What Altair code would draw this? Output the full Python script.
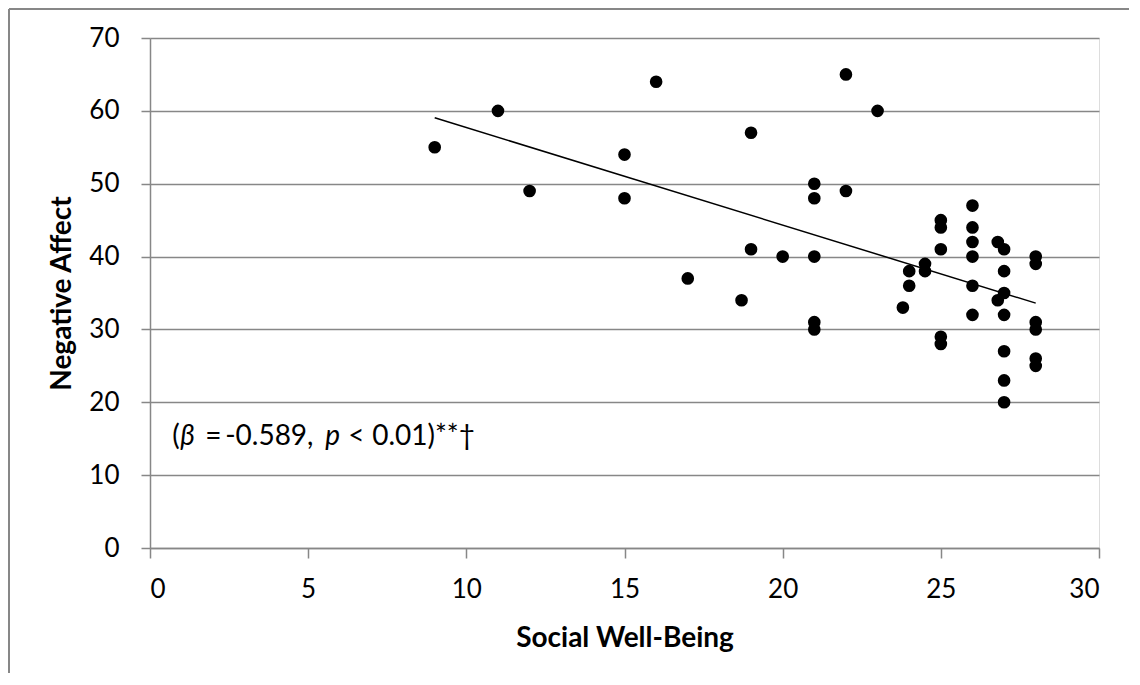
import altair as alt
import pandas as pd

social_wb = [9, 11, 12, 15, 15, 16, 17, 18.7, 19, 19, 20,
             21, 21, 21, 21, 21, 22, 22, 23, 23.8, 24, 24, 24.5, 24.5,
             25, 25, 25, 25, 25, 26, 26, 26, 26, 26, 26,
             26.8, 27, 27, 27, 26.8, 27, 27, 27, 27,
             28, 28, 28, 28, 28, 28]
neg_affect = [55, 60, 49, 54, 48, 64, 37, 34, 57, 41, 40,
              50, 48, 40, 31, 30, 65, 49, 60, 33, 38, 36, 39, 38,
              45, 44, 41, 29, 28, 47, 44, 42, 40, 36, 32,
              42, 41, 38, 35, 34, 32, 27, 23, 20,
              40, 39, 31, 30, 26, 25]

x_ticks = [0, 5, 10, 15, 20, 25, 30]
y_ticks = [0, 10, 20, 30, 40, 50, 60, 70]

ann_text = ["(", "β", "=", "-0.589,", "p", "<", "0.01)**†"]
ann_style = ["normal", "italic", "normal", "normal", "italic", "normal", "normal"]
ann_dx = [0, 8, 33, 53, 153, 176, 200]
ann_x = 0.7
ann_y = 15.3

df = pd.DataFrame({"x": social_wb, "y": neg_affect})
ann = pd.DataFrame({"t": ann_text, "s": ann_style, "dx": ann_dx,
                    "x": [ann_x] * len(ann_text), "y": [ann_y] * len(ann_text)})

FONT = "Lato"
GRAY = "#878787"

xs = alt.Scale(domain=[0, 30], nice=False, zero=False)
ys = alt.Scale(domain=[0, 70], nice=False)

xenc = alt.X("x:Q", scale=xs, title="Social Well-Being",
             axis=alt.Axis(values=x_ticks, grid=False, domainColor=GRAY, domainWidth=1.5,
                           tickColor=GRAY, tickSize=10, tickWidth=1.5,
                           labelFontSize=26, labelColor="black", labelFont=FONT,
                           labelPadding=18, titleFontSize=28, titleFont=FONT,
                           titleFontWeight="bold", titleColor="black", titlePadding=22))
yenc = alt.Y("y:Q", scale=ys, title="Negative Affect",
             axis=alt.Axis(values=y_ticks, grid=True, gridColor=GRAY, gridWidth=1.5,
                           domainColor=GRAY, domainWidth=1.5,
                           tickColor=GRAY, tickSize=9, tickWidth=1.5,
                           labelFontSize=26, labelColor="black", labelFont=FONT,
                           labelPadding=22, titleFontSize=28, titleFont=FONT,
                           titleFontWeight="bold", titleColor="black", titlePadding=12))

points = alt.Chart(df).mark_circle(size=160, color="black", opacity=1).encode(x=xenc, y=yenc)

line = alt.Chart(df).transform_regression("x", "y").mark_line(
    color="black", strokeWidth=1.5).encode(x=alt.X("x:Q", scale=xs), y=alt.Y("y:Q", scale=ys))

texts = []
for i in range(len(ann_text)):
    texts.append(alt.Chart(ann.iloc[[i]]).mark_text(
        align="left", baseline="middle", fontSize=28, font=FONT,
        fontStyle=ann_style[i], dx=ann_dx[i], color="black").encode(
        x=alt.X("x:Q", scale=xs), y=alt.Y("y:Q", scale=ys), text="t:N"))

border_left = alt.Chart(df).mark_rule(color=GRAY, strokeWidth=1.5, clip=False).encode(
    x=alt.value(-141), x2=alt.value(-141), y=alt.value(-29), y2=alt.value(660))
border_top = alt.Chart(df).mark_rule(color=GRAY, strokeWidth=1.5, clip=False).encode(
    x=alt.value(-141), x2=alt.value(1000), y=alt.value(-29), y2=alt.value(-29))

chart = alt.layer(border_left, border_top, points, line, *texts).properties(
    width=949, height=510,
    autosize=alt.AutoSizeParams(type="none"),
    padding={"left": 142, "top": 30, "right": 30, "bottom": 125},
).configure_view(stroke=None).configure(background="white")

chart.save("out.html", embed_options={"renderer": "svg", "actions": False})
